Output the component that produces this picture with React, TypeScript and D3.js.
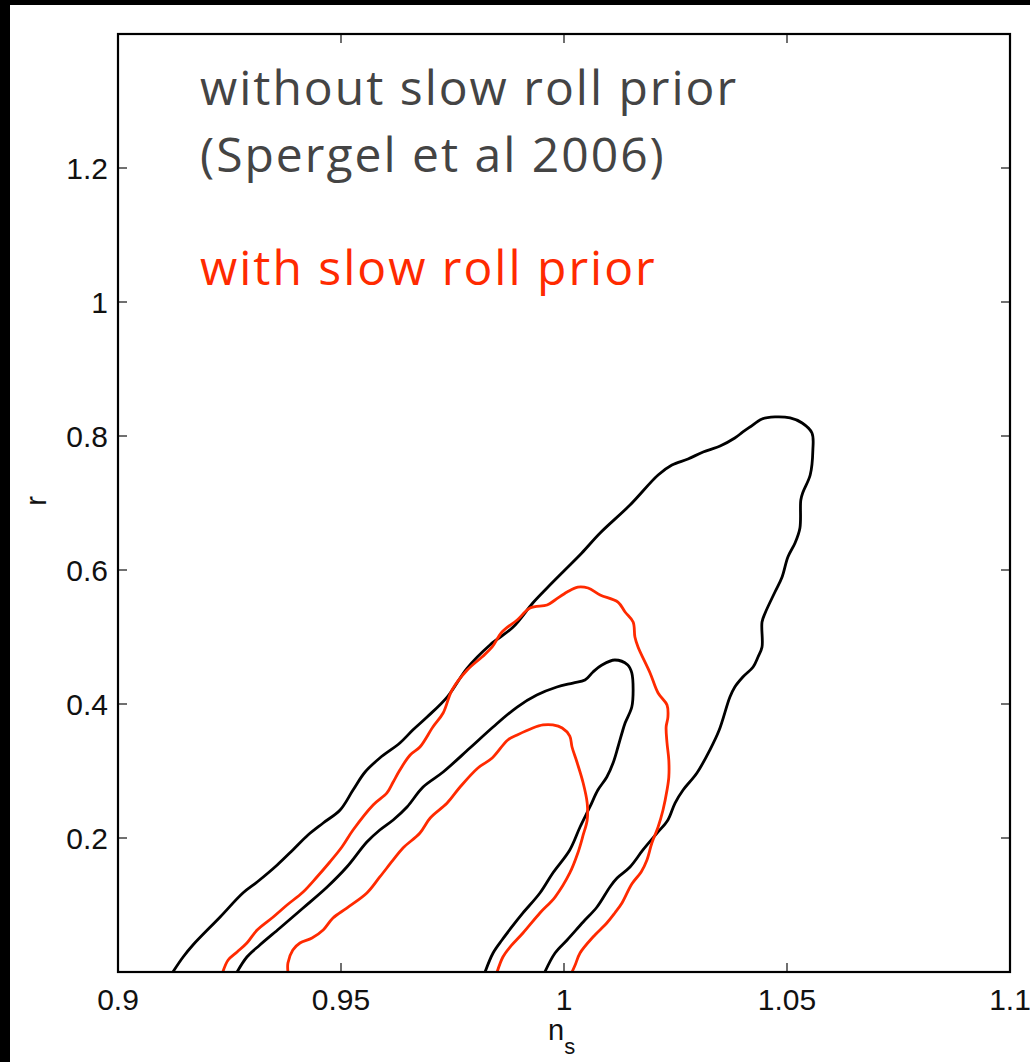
import React from 'react';
import * as d3 from 'd3';

// Axis ticks
const xTicks = [0.9, 0.95, 1, 1.05, 1.1];
const xTickLabels = ['0.9', '0.95', '1', '1.05', '1.1'];
const yTicks = [0.2, 0.4, 0.6, 0.8, 1, 1.2];
const yTickLabels = ['0.2', '0.4', '0.6', '0.8', '1', '1.2'];

// Contours (n_s, r) without the slow-roll prior: 95% and 68%
const noPrior95: [number, number][] = [
  [0.9123, 0], [0.9146, 0.0224], [0.9168, 0.0403], [0.9229, 0.0821], [0.928, 0.1179], [0.9312, 0.1343],
  [0.9357, 0.1597], [0.9392, 0.1821], [0.9426, 0.2045], [0.946, 0.2224], [0.9498, 0.2418], [0.9527, 0.2716],
  [0.9554, 0.2985], [0.9587, 0.3194], [0.9632, 0.3418], [0.9661, 0.3612], [0.9693, 0.3806], [0.9738, 0.4104],
  [0.9783, 0.4537], [0.9834, 0.4881], [0.9886, 0.5149], [0.993, 0.5507], [0.9962, 0.5731], [1.0002, 0.6],
  [1.004, 0.6254], [1.0081, 0.6552], [1.0148, 0.697], [1.0211, 0.7418], [1.0242, 0.7567], [1.0278, 0.7657],
  [1.0312, 0.7761], [1.035, 0.7851], [1.0383, 0.797], [1.0401, 0.806], [1.0417, 0.8134], [1.0444, 0.8254],
  [1.0473, 0.8284], [1.0507, 0.8269], [1.0534, 0.8194], [1.0556, 0.8045], [1.0558, 0.7791], [1.0552, 0.7418],
  [1.0536, 0.7164], [1.0531, 0.7045], [1.0529, 0.6627], [1.0518, 0.6403], [1.0502, 0.6194], [1.0489, 0.5896],
  [1.0473, 0.5672], [1.0451, 0.5358], [1.0444, 0.5224], [1.0444, 0.4851], [1.0435, 0.4701], [1.0424, 0.4552],
  [1.0401, 0.4403], [1.0383, 0.4254], [1.0372, 0.4104], [1.0348, 0.3612], [1.0327, 0.3313], [1.0298, 0.297],
  [1.0267, 0.2716], [1.0249, 0.2522], [1.0233, 0.2269], [1.0209, 0.2075], [1.0177, 0.1821], [1.0148, 0.1567],
  [1.0119, 0.1403], [1.0103, 0.1269], [1.0074, 0.097], [1.0043, 0.0746], [1.0007, 0.0478], [0.998, 0.0284],
  [0.9957, 0],
];
const noPrior68: [number, number][] = [
  [0.9267, 0], [0.9289, 0.0224], [0.9318, 0.0403], [0.9363, 0.0657], [0.9415, 0.0955], [0.9469, 0.1269],
  [0.9513, 0.1567], [0.9558, 0.194], [0.9587, 0.2119], [0.9617, 0.2269], [0.9648, 0.2463], [0.9684, 0.2761],
  [0.9729, 0.2985], [0.9789, 0.3343], [0.9841, 0.3657], [0.9895, 0.3955], [0.9939, 0.4134], [0.9984, 0.4254],
  [1.002, 0.4313], [1.0047, 0.4358], [1.0065, 0.4478], [1.0085, 0.4582], [1.0114, 0.4657], [1.0143, 0.4582],
  [1.0152, 0.4463], [1.0155, 0.4209], [1.0152, 0.3955], [1.0137, 0.3716], [1.013, 0.3567], [1.0121, 0.3358],
  [1.011, 0.3119], [1.0096, 0.291], [1.0076, 0.2716], [1.0058, 0.2463], [1.0036, 0.2164], [1.0013, 0.1821],
  [0.9975, 0.1478], [0.9946, 0.1179], [0.9908, 0.0881], [0.9883, 0.0672], [0.9861, 0.0478], [0.9841, 0.0284],
  [0.9823, 0],
];

// Contours (n_s, r) with the slow-roll prior: 95% and 68%
const prior95: [number, number][] = [
  [0.9235, 0], [0.9247, 0.0179], [0.9267, 0.0299], [0.9289, 0.0433], [0.9312, 0.0627], [0.9348, 0.0821],
  [0.9379, 0.1], [0.9415, 0.1194], [0.9446, 0.1418], [0.9475, 0.1642], [0.9502, 0.1866], [0.9527, 0.2119],
  [0.9572, 0.2493], [0.9603, 0.2672], [0.9617, 0.2836], [0.9632, 0.3015], [0.9655, 0.3239], [0.9677, 0.3358],
  [0.9706, 0.3657], [0.9729, 0.3866], [0.9749, 0.4209], [0.9783, 0.4507], [0.9816, 0.4701], [0.9839, 0.4851],
  [0.9861, 0.5075], [0.9895, 0.5254], [0.9924, 0.5433], [0.9962, 0.5478], [0.998, 0.5552], [1.0007, 0.5672],
  [1.0031, 0.5746], [1.0054, 0.5731], [1.0081, 0.5627], [1.0121, 0.5522], [1.0137, 0.5373], [1.0155, 0.5224],
  [1.0159, 0.5], [1.0166, 0.4851], [1.0193, 0.4463], [1.0211, 0.4164], [1.0231, 0.3985], [1.0233, 0.3806],
  [1.0229, 0.3657], [1.0231, 0.3418], [1.0235, 0.3164], [1.0235, 0.291], [1.0231, 0.2716], [1.0222, 0.2418],
  [1.0211, 0.2164], [1.0197, 0.1925], [1.0186, 0.1672], [1.0173, 0.1493], [1.0152, 0.1313], [1.013, 0.103],
  [1.0114, 0.0881], [1.0096, 0.0731], [1.0065, 0.0522], [1.0036, 0.0284], [1.0025, 0.0104], [1.0018, 0],
];
const prior68: [number, number][] = [
  [0.9381, 0], [0.9381, 0.0134], [0.9392, 0.0328], [0.9408, 0.0433], [0.9435, 0.0507], [0.946, 0.0627],
  [0.9482, 0.0806], [0.9513, 0.0955], [0.9558, 0.1179], [0.9587, 0.1418], [0.9617, 0.1672], [0.9639, 0.1851],
  [0.9677, 0.2075], [0.97, 0.2299], [0.9738, 0.2522], [0.9767, 0.2761], [0.9807, 0.3045], [0.9839, 0.3194],
  [0.9874, 0.3463], [0.9895, 0.3537], [0.993, 0.3642], [0.9953, 0.3687], [0.9975, 0.3687], [0.9996, 0.3642],
  [1.0013, 0.3522], [1.0018, 0.3358], [1.0029, 0.3134], [1.0043, 0.2821], [1.0052, 0.2522], [1.0052, 0.2269],
  [1.0043, 0.2045], [1.0031, 0.1776], [1.0013, 0.1478], [0.998, 0.1119], [0.9946, 0.0881], [0.9908, 0.0582],
  [0.9879, 0.0373], [0.9863, 0.0224], [0.985, 0],
];

const W = 1030;
const H = 1062;
const plot = { left: 118, right: 1010, top: 34, bottom: 972 };

const RED = '#ff2a00';
const GRAY = '#444444';
const TICK_FONT = '"Liberation Sans", Arial, Helvetica, sans-serif';
const NOTE_FONT = '"Open Sans", Lato, sans-serif';

export default function App() {
  const x = d3.scaleLinear().domain([0.9, 1.1]).range([plot.left, plot.right]);
  const y = d3.scaleLinear().domain([0, 1.4]).range([plot.bottom, plot.top]);
  const line = d3
    .line<[number, number]>()
    .x((d) => x(d[0]))
    .y((d) => y(d[1]))
    .curve(d3.curveCatmullRom.alpha(0.5));

  const contours = [
    { data: noPrior95, color: '#000' },
    { data: noPrior68, color: '#000' },
    { data: prior95, color: RED },
    { data: prior68, color: RED },
  ];

  const tickLen = 9;

  return (
    <div style={{ position: 'absolute', left: 0, top: 0 }}>
      <svg width={W} height={H} style={{ display: 'block', background: '#fff' }}>
        <rect x={0} y={0} width={W} height={H} fill="#fff" />
        {/* dark frame strips */}
        <rect x={0} y={0} width={W} height={5} fill="#000" />
        <rect x={0} y={0} width={10} height={H} fill="#000" />

        <defs>
          <clipPath id="plot-area">
            <rect x={plot.left} y={plot.top} width={plot.right - plot.left} height={plot.bottom - plot.top} />
          </clipPath>
        </defs>

        <g clipPath="url(#plot-area)">
          {contours.map((c, i) => (
            <path key={i} d={line(c.data) || ''} fill="none" stroke={c.color} strokeWidth={2.8} strokeLinejoin="round" />
          ))}
        </g>

        {/* ticks on all four sides, pointing inward */}
        {xTicks.map((t, i) => (
          <g key={'xt' + i}>
            <line x1={x(t)} x2={x(t)} y1={plot.bottom} y2={plot.bottom - tickLen} stroke="#222" strokeWidth={1.3} />
            <line x1={x(t)} x2={x(t)} y1={plot.top} y2={plot.top + tickLen} stroke="#222" strokeWidth={1.3} />
            <text x={x(t)} y={1010} textAnchor="middle" fontFamily={TICK_FONT} fontSize={30} fill="#111">
              {xTickLabels[i]}
            </text>
          </g>
        ))}
        {yTicks.map((t, i) => (
          <g key={'yt' + i}>
            <line x1={plot.left} x2={plot.left + tickLen} y1={y(t)} y2={y(t)} stroke="#222" strokeWidth={1.3} />
            <line x1={plot.right} x2={plot.right - tickLen} y1={y(t)} y2={y(t)} stroke="#222" strokeWidth={1.3} />
            <text x={108} y={y(t) + 10.5} textAnchor="end" fontFamily={TICK_FONT} fontSize={30} fill="#111">
              {yTickLabels[i]}
            </text>
          </g>
        ))}

        <rect
          x={plot.left}
          y={plot.top}
          width={plot.right - plot.left}
          height={plot.bottom - plot.top}
          fill="none"
          stroke="#000"
          strokeWidth={2.2}
        />

        {/* axis titles */}
        <text x={548} y={1040} fontFamily={TICK_FONT} fontSize={29} fill="#111">
          n
          <tspan fontSize={22} dy={14}>s</tspan>
        </text>
        <text
          transform={`translate(46, 501) rotate(-90)`}
          textAnchor="middle"
          fontFamily={TICK_FONT}
          fontSize={29}
          fill="#111"
        >
          r
        </text>

        {/* annotations */}
        <g fontFamily={NOTE_FONT} fontSize={48} letterSpacing={2}>
          <text x={200} y={105} fill={GRAY}>
            without slow roll prior
          </text>
          <text x={200} y={172} fill={GRAY}>
            (Spergel et al 2006)
          </text>
          <text x={200} y={285} fill={RED}>
            with slow roll prior
          </text>
        </g>
      </svg>
    </div>
  );
}
